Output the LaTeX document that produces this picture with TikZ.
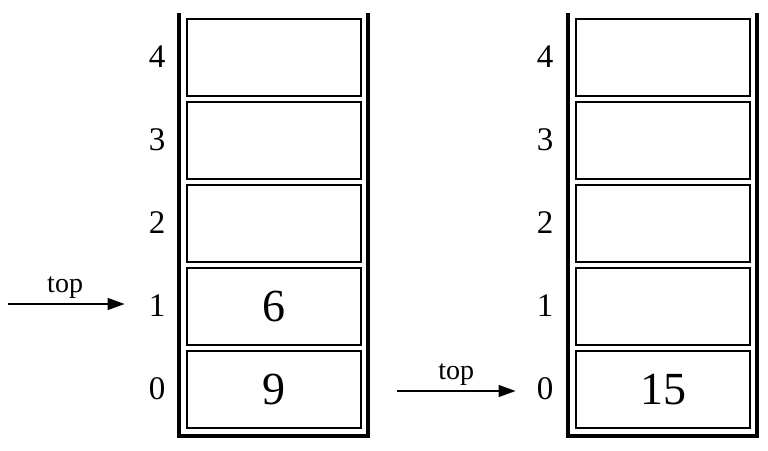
\documentclass[tikz,border=0pt]{standalone}
\usepackage{fontspec}
\setmainfont{Liberation Serif}
\usetikzlibrary{arrows.meta}
\begin{document}
\begin{tikzpicture}[x=1pt,y=-1pt,
  cell/.style={draw,line width=1.3pt,minimum width=174pt,minimum height=77pt,inner sep=0pt,font=\fontsize{46}{46}\selectfont},
  idx/.style={font=\fontsize{33}{33}\selectfont,inner sep=0pt},
  wall/.style={line width=4pt},
  ptr/.style={-{Triangle[length=17pt,width=12pt]},line width=1.3pt},
  toplbl/.style={font=\fontsize{28}{28}\selectfont}]
\useasboundingbox (0,0) rectangle (768,450);
% left stack
\draw[wall] (179,13) -- (179,436) -- (368,436) -- (368,13);
\node[cell] (L4) at (274,57.5) {};
\node[cell] (L3) at (274,140.5) {};
\node[cell] (L2) at (274,223.5) {};
\node[cell] (L1) at (274,306.5) {6};
\node[cell] (L0) at (274,389.5) {9};
\node[idx] (li4) at (157,57) {4};
\node[idx] (li3) at (157,140) {3};
\node[idx] (li2) at (157,223) {2};
\node[idx] (li1) at (157,306) {1};
\node[idx] (li0) at (157,389) {0};
% right stack
\draw[wall] (568,13) -- (568,436) -- (757,436) -- (757,13);
\node[cell] (R4) at (663,57.5) {};
\node[cell] (R3) at (663,140.5) {};
\node[cell] (R2) at (663,223.5) {};
\node[cell] (R1) at (663,306.5) {};
\node[cell] (R0) at (663,389.5) {15};
\node[idx] (ri4) at (545,57) {4};
\node[idx] (ri3) at (545,140) {3};
\node[idx] (ri2) at (545,223) {2};
\node[idx] (ri1) at (545,306) {1};
\node[idx] (ri0) at (545,389) {0};
% pointers
\coordinate (la) at (8,304);
\draw[ptr] (la) -- ([xshift=-24pt]li1.west |- la) node[pos=0.49,above=2pt,toplbl] {top};
\coordinate (ra) at (397,391);
\draw[ptr] (ra) -- ([xshift=-21pt]ri0.west |- ra) node[pos=0.5,above=2pt,toplbl] {top};
\end{tikzpicture}
\end{document}
